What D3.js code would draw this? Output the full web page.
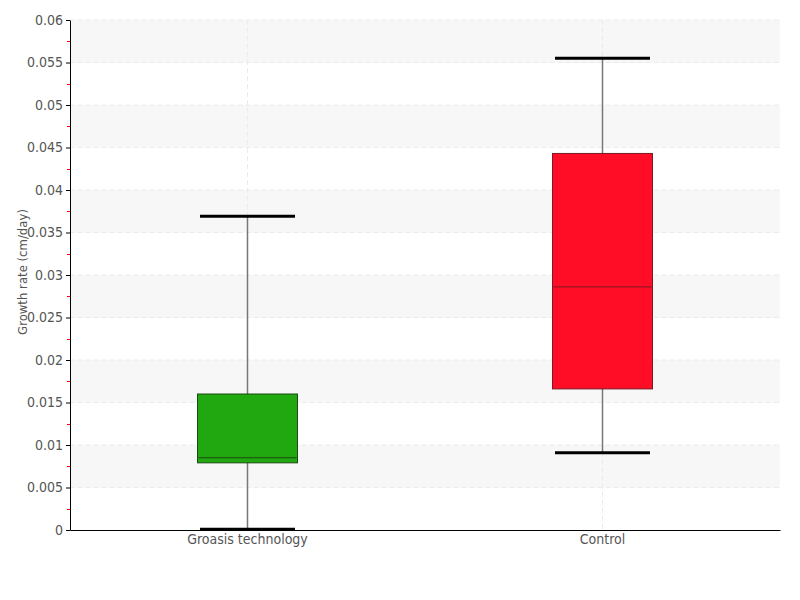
<!DOCTYPE html>
<html>
<head>
<meta charset="utf-8">
<script src="https://cdn.jsdelivr.net/npm/d3@7"></script>
<style>
  body { margin: 0; background: #fff; }
  text { font-family: "DejaVu Sans", sans-serif; font-stretch: condensed; }
</style>
</head>
<body>
<svg id="chart" width="800" height="600"></svg>
<script>
// box statistics
var categories = ['Groasis technology', 'Control'];
var mins    = [0.0001, 0.0091];
var q1s     = [0.0079, 0.0166];
var medians = [0.0085, 0.0286];
var q3s     = [0.0160, 0.0443];
var maxs    = [0.0369, 0.0555];
var fills   = ['#21a70f', '#ff0d26'];
var strokes = ['#1d4a12', '#7a1a22'];
var yTicks  = [0, 0.005, 0.01, 0.015, 0.02, 0.025, 0.03, 0.035, 0.04, 0.045, 0.05, 0.055, 0.06];
var yLabel  = 'Growth rate (cm/day)';

var margin = {top: 20, right: 20, bottom: 70, left: 70},
    width = 800 - margin.left - margin.right,
    height = 600 - margin.top - margin.bottom,
    boxWidth = 100,
    capWidth = 95;

var svg = d3.select('#chart');
var g = svg.append('g').attr('transform', 'translate(' + margin.left + ',' + margin.top + ')');

var x = d3.scaleBand().domain(categories).range([0, width]);
var y = d3.scaleLinear().domain([0, 0.06]).range([height, 0]);

// alternating background bands
var bands = d3.range(1, yTicks.length - 1, 2);
g.selectAll('rect.band')
    .data(bands)
    .enter().append('rect')
    .attr('class', 'band')
    .attr('x', 0)
    .attr('width', width)
    .attr('y', function(i) { return y(yTicks[i + 1]); })
    .attr('height', function(i) { return y(yTicks[i]) - y(yTicks[i + 1]); })
    .attr('fill', '#f7f7f7');

// horizontal grid
g.selectAll('line.hgrid')
    .data(yTicks.slice(1))
    .enter().append('line')
    .attr('x1', 0).attr('x2', width)
    .attr('y1', function(d) { return y(d); })
    .attr('y2', function(d) { return y(d); })
    .attr('stroke', '#ebebeb')
    .attr('stroke-dasharray', '5,3');

// vertical grid at categories
g.selectAll('line.vgrid')
    .data(categories)
    .enter().append('line')
    .attr('x1', function(d) { return x(d) + x.bandwidth() / 2; })
    .attr('x2', function(d) { return x(d) + x.bandwidth() / 2; })
    .attr('y1', 0).attr('y2', height)
    .attr('stroke', '#ebebeb')
    .attr('stroke-dasharray', '5,3');

// boxes
var boxes = g.selectAll('g.box')
    .data(categories)
    .enter().append('g')
    .attr('class', 'box')
    .attr('transform', function(d) { return 'translate(' + (x(d) + x.bandwidth() / 2) + ',0)'; });

boxes.append('line')
    .attr('x1', 0).attr('x2', 0)
    .attr('y1', function(d, i) { return y(maxs[i]); })
    .attr('y2', function(d, i) { return y(mins[i]); })
    .attr('stroke', '#777')
    .attr('stroke-width', 1.5);

boxes.append('rect')
    .attr('x', -boxWidth / 2)
    .attr('width', boxWidth)
    .attr('y', function(d, i) { return y(q3s[i]); })
    .attr('height', function(d, i) { return y(q1s[i]) - y(q3s[i]); })
    .attr('fill', function(d, i) { return fills[i]; })
    .attr('stroke', function(d, i) { return strokes[i]; })
    .attr('stroke-width', 1);

boxes.append('line')
    .attr('x1', -boxWidth / 2 + 1).attr('x2', boxWidth / 2 - 1)
    .attr('y1', function(d, i) { return y(medians[i]); })
    .attr('y2', function(d, i) { return y(medians[i]); })
    .attr('stroke', function(d, i) { return strokes[i]; })
    .attr('stroke-width', 1);

[maxs, mins].forEach(function(arr) {
    boxes.append('line')
        .attr('x1', -capWidth / 2).attr('x2', capWidth / 2)
        .attr('y1', function(d, i) { return y(arr[i]); })
        .attr('y2', function(d, i) { return y(arr[i]); })
        .attr('stroke', '#000')
        .attr('stroke-width', 3);
});

// minor ticks (red)
g.selectAll('line.minor')
    .data(yTicks.slice(0, -1))
    .enter().append('line')
    .attr('x1', -3).attr('x2', 0)
    .attr('y1', function(d) { return Math.round(y(d + 0.0025)) + 0.5; })
    .attr('y2', function(d) { return Math.round(y(d + 0.0025)) + 0.5; })
    .attr('stroke', '#ff0000');

// axes
var yAxis = g.append('g')
    .call(d3.axisLeft(y).tickValues(yTicks).tickSize(4).tickSizeOuter(0).tickFormat(function(d) { return String(+d.toFixed(3)); }));
yAxis.select('.domain').attr('stroke', '#000');
yAxis.selectAll('.tick line').attr('stroke', '#000');
yAxis.selectAll('.tick text').attr('fill', '#555').style('font-size', '14px');

var xAxis = g.append('g')
    .attr('transform', 'translate(0,' + height + ')')
    .call(d3.axisBottom(x).tickSize(0).tickSizeOuter(0).tickPadding(4));
xAxis.select('.domain').attr('stroke', '#000');
xAxis.selectAll('.tick text').attr('fill', '#555').style('font-size', '14px');

svg.append('text')
    .attr('transform', 'translate(27,272) rotate(-90)')
    .attr('text-anchor', 'middle')
    .attr('fill', '#555')
    .style('font-size', '13px')
    .text(yLabel);
</script>
</body>
</html>
